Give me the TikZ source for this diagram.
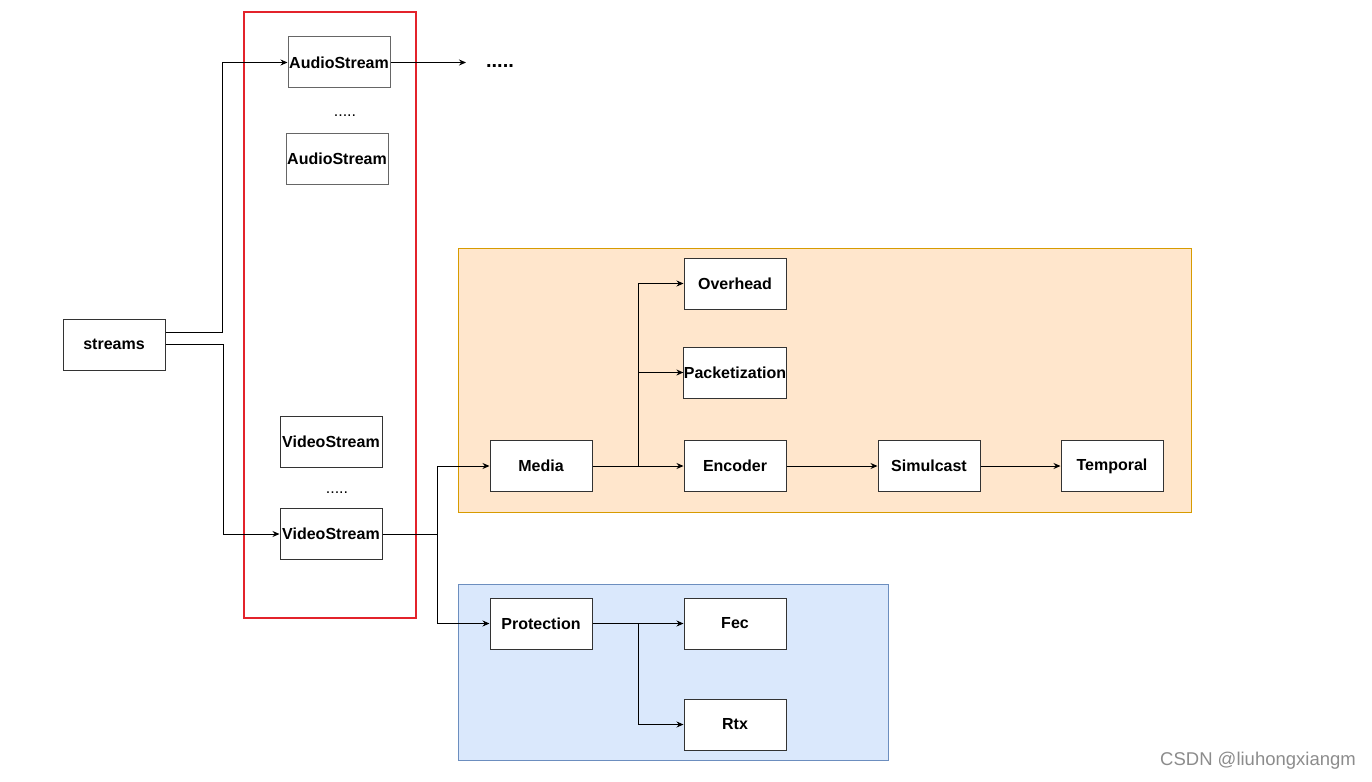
\documentclass[tikz,border=0pt]{standalone}
\usepackage{fontspec}
\setmainfont{Liberation Sans}
\usetikzlibrary{arrows.meta}
\definecolor{orangefill}{HTML}{FFE6CC}
\definecolor{orangeline}{HTML}{D79B00}
\definecolor{bluefill}{HTML}{DAE8FC}
\definecolor{blueline}{HTML}{6C8EBF}
\definecolor{redline}{HTML}{E3232B}
\begin{document}
\begin{tikzpicture}[x=1pt,y=-1pt,
  box/.style={draw=black!80, fill=white, line width=1pt, minimum width=102pt, minimum height=51pt, inner sep=0pt, font=\fontsize{16}{19}\selectfont\bfseries},
  graybox/.style={box, draw=black!60},
  group/.style={line width=1pt, inner sep=0pt},
  conn/.style={draw=black, line width=1pt, -{Stealth[length=7pt,width=6pt]}},
  line/.style={draw=black, line width=1pt},
  dots/.style={inner sep=0pt, font=\fontsize{16}{19}\selectfont},
  bigdots/.style={inner sep=0pt, font=\fontsize{20}{24}\selectfont\bfseries}]
\useasboundingbox (0,0) rectangle (1372,781);

% group frames
\node[group, draw=redline, line width=1.8pt, minimum width=172pt, minimum height=606pt] (redframe) at (330,315) {};
\node[group, draw=orangeline, fill=orangefill, minimum width=733pt, minimum height=264pt] (mediagroup) at (824.5,380) {};
\node[group, draw=blueline, fill=bluefill, minimum width=430pt, minimum height=176pt] (protgroup) at (673,672) {};

% nodes
\node[box] (streams) at (114,344.5) {streams};
\node[graybox] (audio1) at (339,62.5) {AudioStream};
\node[dots] (adots) at (345,116) {.....};
\node[graybox] (audio2) at (337,158.5) {AudioStream};
\node[box] (video1) at (331,441.5) {VideoStream};
\node[dots] (vdots) at (337,493) {.....};
\node[box] (video2) at (331,534) {VideoStream};
\node[bigdots] (more) at (500,66) {.....};
\coordinate (moreend) at (466,62.5);

\node[box] (media) at (541,466) {Media};
\node[box] (overhead) at (735,283.5) {Overhead};
\node[box] (packet) at (735,372.5) {Packetization};
\node[box] (encoder) at (735,466) {Encoder};
\node[box] (simulcast) at (929,466) {Simulcast};
\node[box] (temporal) at (1112,466) {Temporal};

\node[box] (protection) at (541,623.5) {Protection};
\node[box] (fec) at (735,623.5) {Fec};
\node[box] (rtx) at (735,724.5) {Rtx};

\coordinate (vsplit) at (437,534);
\coordinate (msplit) at (638,466);
\coordinate (psplit) at (638,623.5);

% connectors
\draw[conn] ([yshift=12.5pt]streams.east) -- ++(57,0) |- (audio1.west);
\draw[conn] (streams.east) -- ++(58,0) |- (video2.west);
\draw[conn] (audio1.east) -- (moreend);
\draw[line] (video2.east) -- (vsplit);
\draw[conn] (vsplit) |- (media.west);
\draw[conn] (vsplit) |- (protection.west);
\draw[conn] (media.east) -- (encoder.west);
\draw[conn] (msplit) |- (overhead.west);
\draw[conn] (msplit) |- (packet.west);
\draw[conn] (encoder.east) -- (simulcast.west);
\draw[conn] (simulcast.east) -- (temporal.west);
\draw[conn] (protection.east) -- (fec.west);
\draw[conn] (psplit) |- (rtx.west);

% watermark
\node[text=black!45, font=\fontsize{18.5}{22}\selectfont, inner sep=0pt] (wm) at (1258,761) {CSDN @liuhongxiangm};
\end{tikzpicture}
\end{document}
